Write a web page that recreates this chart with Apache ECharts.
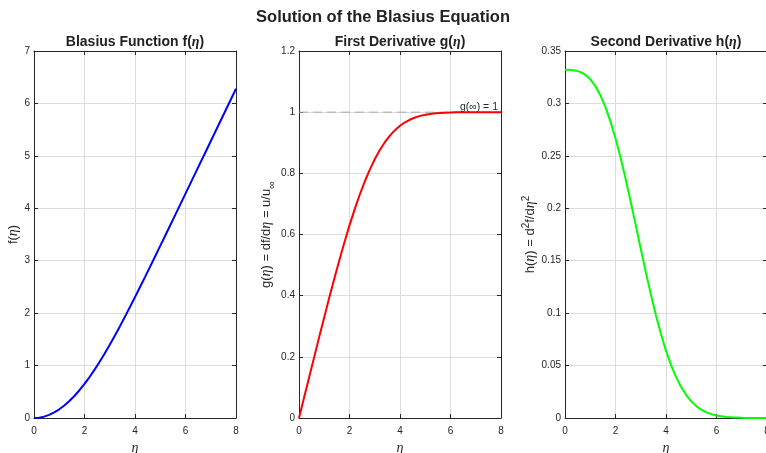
<!DOCTYPE html>
<html>
<head>
<meta charset="utf-8">
<script src="https://cdn.jsdelivr.net/npm/echarts@6/dist/echarts.min.js"></script>
<title>Blasius</title>
<style>
  html, body { margin: 0; padding: 0; background: #fff; }
</style>
</head>
<body>
<div id="main" style="width:766px;height:453px;"></div>
<script type="text/javascript">
// eta grid and Blasius solution values
var eta = [0, 0.2, 0.4, 0.6, 0.8, 1.0, 1.2, 1.4, 1.6, 1.8, 2.0, 2.2, 2.4, 2.6, 2.8, 3.0,
  3.2, 3.4, 3.6, 3.8, 4.0, 4.2, 4.4, 4.6, 4.8, 5.0, 5.2, 5.4, 5.6, 5.8, 6.0,
  6.2, 6.4, 6.6, 6.8, 7.0, 7.2, 7.4, 7.6, 7.8, 8.0];
var fVals = [0, 0.0066, 0.0266, 0.0597, 0.1061, 0.1656, 0.2380, 0.3230, 0.4203, 0.5295,
  0.6500, 0.7812, 0.9223, 1.0725, 1.2310, 1.3968, 1.5691, 1.7470, 1.9295, 2.1161,
  2.3058, 2.4981, 2.6924, 2.8883, 3.0853, 3.2833, 3.4819, 3.6809, 3.8803, 4.0799,
  4.2796, 4.4795, 4.6794, 4.8793, 5.0793, 5.2793, 5.4792, 5.6792, 5.8792, 6.0792, 6.2792];
var gVals = [0, 0.0664, 0.1328, 0.1989, 0.2647, 0.3298, 0.3938, 0.4563, 0.5168, 0.5748,
  0.6298, 0.6813, 0.7290, 0.7725, 0.8115, 0.8461, 0.8761, 0.9018, 0.9233, 0.9411,
  0.9555, 0.9670, 0.9759, 0.9827, 0.9878, 0.9916, 0.9943, 0.9962, 0.9975, 0.9984,
  0.9990, 0.9994, 0.9996, 0.9998, 0.9999, 0.9999, 1.0, 1.0, 1.0, 1.0, 1.0];
var hVals = [0.3321, 0.3320, 0.3315, 0.3301, 0.3274, 0.3230, 0.3166, 0.3079, 0.2967, 0.2829,
  0.2668, 0.2484, 0.2281, 0.2065, 0.1840, 0.1614, 0.1391, 0.1179, 0.0981, 0.0801,
  0.0642, 0.0505, 0.0390, 0.0295, 0.0219, 0.0159, 0.0113, 0.0079, 0.0054, 0.0037,
  0.0024, 0.0016, 0.0010, 0.0006, 0.0004, 0.0002, 0.0001, 0.0001, 0, 0, 0];
var gInf = 1;

var xTicks = { min: 0, max: 8, interval: 2 };
var yRanges = [
  { min: 0, max: 7, interval: 1 },
  { min: 0, max: 1.2, interval: 0.2 },
  { min: 0, max: 0.35, interval: 0.05 }
];

function pairs(ys) {
  return eta.map(function (x, i) { return [x, ys[i]]; });
}

var FONT = 'Liberation Sans, Arial, Helvetica, sans-serif';
var SERIF = 'Liberation Serif, Times New Roman, serif';
var AX = '#262626';
var lefts = [34, 299, 565];
var plotW = 202;

var grids = lefts.map(function (l) {
  return { left: l, width: plotW, top: 51, height: 367, containLabel: false, outerBoundsMode: 'none' };
});

var xAxes = [], yAxes = [];
var yNames = [
  'f({i|η})',
  'g({i|η}) = df/d{i|η} = u/u{sub|∞}',
  'h({i|η}) = d{sup|2}f/d{i|η}{sup|2}'
];
var yGaps = [13, 21, 22];
var rich = {
  i: { fontStyle: 'italic', fontFamily: SERIF, fontSize: 14, color: AX },
  sub: { fontSize: 11, fontFamily: FONT, color: AX, verticalAlign: 'bottom', padding: [11, 0, 0, 0] },
  sup: { fontSize: 10, fontFamily: FONT, color: AX, verticalAlign: 'top', padding: [0, 0, 8, 0] }
};

for (var k = 0; k < 3; k++) {
  xAxes.push({
    type: 'value', gridIndex: k, position: 'bottom',
    min: xTicks.min, max: xTicks.max, interval: xTicks.interval,
    name: 'η', nameLocation: 'middle', nameGap: 10,
    nameTextStyle: { fontStyle: 'italic', fontFamily: SERIF, fontSize: 14, color: AX },
    axisLine: { show: true, onZero: false, lineStyle: { color: AX, width: 1 } },
    axisTick: { show: true, inside: true, length: 4, lineStyle: { color: AX } },
    axisLabel: { fontFamily: FONT, fontSize: 10, color: AX, margin: 8 },
    splitLine: { show: true, lineStyle: { color: '#dcdcdc', width: 1 } }
  });
  xAxes.push({
    type: 'value', gridIndex: k, position: 'top',
    min: xTicks.min, max: xTicks.max, interval: xTicks.interval,
    axisLine: { show: true, onZero: false, lineStyle: { color: AX, width: 1 } },
    axisTick: { show: true, inside: true, length: 4, lineStyle: { color: AX } },
    axisLabel: { show: false }, splitLine: { show: false }
  });
  yAxes.push({
    type: 'value', gridIndex: k, position: 'left',
    min: yRanges[k].min, max: yRanges[k].max, interval: yRanges[k].interval,
    name: yNames[k], nameLocation: 'middle', nameGap: yGaps[k], nameRotate: 90,
    nameTextStyle: { fontFamily: FONT, fontSize: 13, color: AX, rich: rich },
    axisLine: { show: true, onZero: false, lineStyle: { color: AX, width: 1 } },
    axisTick: { show: true, inside: true, length: 4, lineStyle: { color: AX } },
    axisLabel: { fontFamily: FONT, fontSize: 10, color: AX, margin: 4 },
    splitLine: { show: true, lineStyle: { color: '#dcdcdc', width: 1 } }
  });
  yAxes.push({
    type: 'value', gridIndex: k, position: 'right',
    min: yRanges[k].min, max: yRanges[k].max, interval: yRanges[k].interval,
    axisLine: { show: true, onZero: false, lineStyle: { color: AX, width: 1 } },
    axisTick: { show: true, inside: true, length: 4, lineStyle: { color: AX } },
    axisLabel: { show: false }, splitLine: { show: false }
  });
}

var titleRich = {
  i: { fontStyle: 'italic', fontFamily: SERIF, fontSize: 14, color: '#222' }
};
var subTitles = ['Blasius Function f({i|η})', 'First Derivative g({i|η})', 'Second Derivative h({i|η})'];

var chart = echarts.init(document.getElementById('main'));
chart.setOption({
  backgroundColor: '#fff',
  animation: false,
  title: [
    {
      text: 'Solution of the Blasius Equation', left: 378, top: 4, textAlign: 'center',
      textStyle: { fontFamily: FONT, fontSize: 16.5, fontWeight: 'bold', color: '#222' }
    }
  ].concat(subTitles.map(function (t, k) {
    return {
      text: t, left: lefts[k] + plotW / 2 - 5, top: 30, textAlign: 'center',
      textStyle: { fontFamily: FONT, fontSize: 14, fontWeight: 'bold', color: '#222', rich: titleRich }
    };
  })),
  grid: grids,
  xAxis: xAxes,
  yAxis: yAxes,
  series: [
    {
      type: 'line', xAxisIndex: 0, yAxisIndex: 0, data: pairs(fVals),
      showSymbol: false, lineStyle: { color: '#0000ff', width: 2 }, itemStyle: { color: '#0000ff' }
    },
    {
      type: 'line', xAxisIndex: 2, yAxisIndex: 2, data: [[xTicks.min, gInf], [xTicks.max, gInf]],
      showSymbol: false, lineStyle: { color: '#a8a8a8', width: 1, type: [9, 5] },
      itemStyle: { color: '#a8a8a8' },
      endLabel: {
        show: true, formatter: 'g(∞) = 1', fontFamily: FONT, fontSize: 10.5, color: AX,
        align: 'right', offset: [-11, -5]
      }
    },
    {
      type: 'line', xAxisIndex: 2, yAxisIndex: 2, data: pairs(gVals),
      showSymbol: false, lineStyle: { color: '#ff0000', width: 2 }, itemStyle: { color: '#ff0000' }
    },
    {
      type: 'line', xAxisIndex: 4, yAxisIndex: 4, data: pairs(hVals),
      showSymbol: false, lineStyle: { color: '#00ff00', width: 2 }, itemStyle: { color: '#00ff00' }
    }
  ]
});
</script>
</body>
</html>
